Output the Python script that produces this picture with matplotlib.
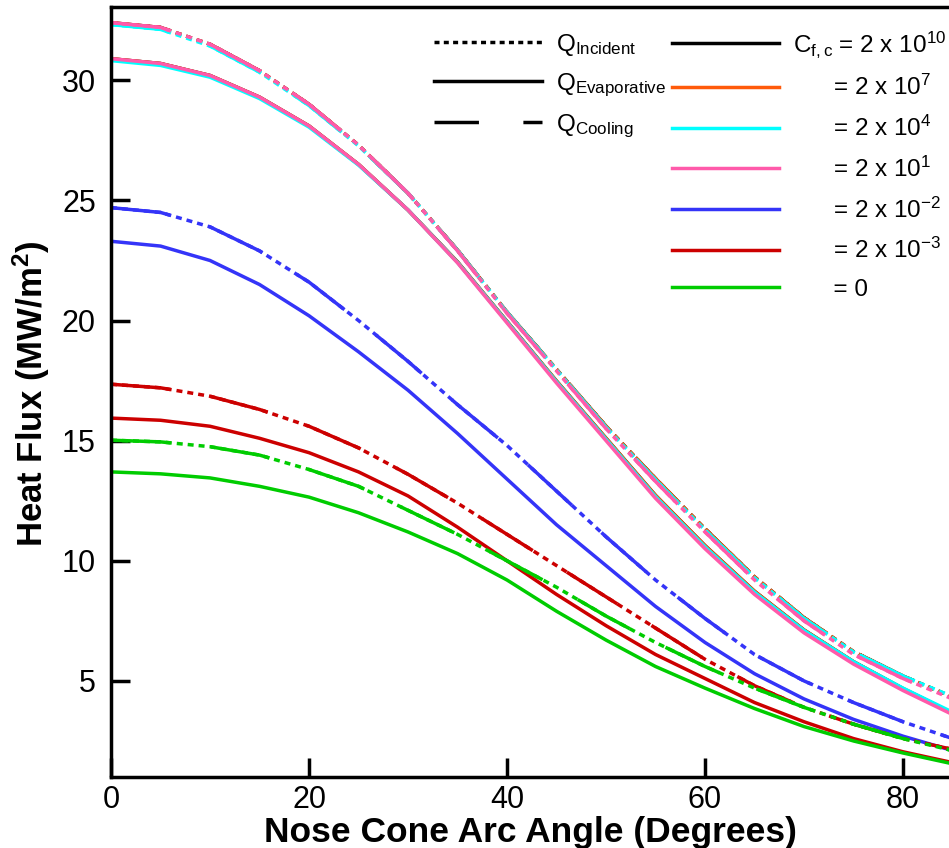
import numpy as np
import matplotlib
matplotlib.use('Agg')
from matplotlib import pyplot as plt
from matplotlib.lines import Line2D

plt.rcParams['font.family'] = ['Liberation Sans', 'DejaVu Sans']
plt.rcParams['mathtext.fontset'] = 'custom'
plt.rcParams['mathtext.rm'] = 'Liberation Sans'
plt.rcParams['mathtext.it'] = 'Liberation Sans:italic'
plt.rcParams['mathtext.bf'] = 'Liberation Sans:bold'
plt.rcParams['lines.scale_dashes'] = False

# nose cone arc angle (deg)
angle = [0, 5, 10, 15, 20, 25, 30, 35, 40, 45, 50, 55, 60, 65, 70, 75, 80, 85]

# heat flux (MW/m2)
# Cfc = 2e10 and 2e7 (black / orange)
blk_inc  = [32.4, 32.2, 31.5, 30.4, 29.0, 27.3, 25.3, 22.93, 20.35, 17.97, 15.6, 13.42, 11.33, 9.33, 7.63, 6.22, 5.2, 4.33]
blk_evap = [30.9, 30.7, 30.2, 29.3, 28.1, 26.5, 24.6, 22.44, 19.96, 17.48, 15.1, 12.72, 10.63, 8.73, 7.12, 5.8, 4.68, 3.66]
# Cfc = 2e4 (cyan)
cyn_inc  = [32.32, 32.12, 31.43, 30.34, 28.95, 27.27, 25.3, 22.92, 20.34, 17.95, 15.56, 13.37, 11.28, 9.29, 7.6, 6.2, 5.2, 4.35]
cyn_evap = [30.82, 30.62, 30.13, 29.24, 28.05, 26.47, 24.6, 22.42, 19.94, 17.45, 15.06, 12.67, 10.58, 8.69, 7.1, 5.8, 4.7, 3.7]
# Cfc = 2e1 (pink)
pnk_inc  = [32.4, 32.2, 31.5, 30.4, 29.0, 27.3, 25.3, 22.9, 20.3, 17.9, 15.5, 13.3, 11.2, 9.2, 7.5, 6.1, 5.1, 4.25]
pnk_evap = [30.9, 30.7, 30.2, 29.3, 28.1, 26.5, 24.6, 22.4, 19.9, 17.4, 15.0, 12.6, 10.5, 8.6, 7.0, 5.7, 4.6, 3.6]
# Cfc = 2e-2 (blue)
blu_inc  = [24.7, 24.5, 23.9, 22.9, 21.6, 20.0, 18.3, 16.5, 14.8, 12.9, 11.0, 9.2, 7.6, 6.1, 5.0, 4.1, 3.3, 2.6]
blu_evap = [23.3, 23.1, 22.5, 21.5, 20.2, 18.7, 17.1, 15.3, 13.4, 11.5, 9.8, 8.1, 6.6, 5.3, 4.25, 3.4, 2.7, 2.1]
# Cfc = 2e-3 (red)
red_inc  = [17.35, 17.2, 16.85, 16.3, 15.6, 14.7, 13.6, 12.4, 11.1, 9.8, 8.5, 7.2, 5.9, 4.8, 3.9, 3.2, 2.6, 2.15]
red_evap = [15.94, 15.85, 15.6, 15.1, 14.5, 13.7, 12.7, 11.4, 10.0, 8.6, 7.3, 6.1, 5.1, 4.1, 3.3, 2.6, 2.05, 1.6]
# Cfc = 0 (green)
grn_inc  = [15.02, 14.95, 14.75, 14.4, 13.8, 13.1, 12.1, 11.1, 10.0, 8.9, 7.7, 6.6, 5.6, 4.7, 3.9, 3.2, 2.6, 2.1]
grn_evap = [13.7, 13.62, 13.45, 13.1, 12.65, 12.0, 11.2, 10.3, 9.2, 7.9, 6.7, 5.6, 4.7, 3.85, 3.1, 2.5, 2.0, 1.55]

pad = '      '
cf_labels = [r'C$_\mathrm{f,c}$ = 2 x 10$^\mathrm{10}$',
             pad + r'= 2 x 10$^\mathrm{7}$',
             pad + r'= 2 x 10$^\mathrm{4}$',
             pad + r'= 2 x 10$^\mathrm{1}$',
             pad + r'= 2 x 10$^\mathrm{-2}$',
             pad + r'= 2 x 10$^\mathrm{-3}$',
             pad + r'= 0']
colors = ['#000000', '#FF5A0A', '#00FFFF', '#FF5AAA', '#3434F8', '#CC0000', '#00CC00']

# incident and cooling curves lie on top of each other in the figure
cases = [(blk_inc, blk_evap), (blk_inc, blk_evap), (cyn_inc, cyn_evap),
         (pnk_inc, pnk_evap), (blu_inc, blu_evap), (red_inc, red_evap),
         (grn_inc, grn_evap)]

DOT = (0, (4.3, 3.6))
DASH = (0, (43, 29))
LW = 2.5

fig = plt.figure(figsize=(9.49, 8.48), dpi=100)
ax = fig.add_axes([0.117, 0.0837, 0.9389, 0.908])

for col, (qi, qe) in zip(colors, cases):
    ax.plot(angle, qi, color=col, lw=LW, linestyle=DOT)    # Q incident
    ax.plot(angle, qi, color=col, lw=LW, linestyle=DASH)   # Q cooling
    ax.plot(angle, qe, color=col, lw=LW, linestyle='-')    # Q evaporative

ax.set_xlim(0, 90)
ax.set_ylim(1.0, 33.05)
ax.set_xticks([0, 20, 40, 60, 80])
ax.set_yticks([5, 10, 15, 20, 25, 30])
ax.tick_params(direction='in', length=14, width=2.5, labelsize=22)
ax.tick_params(axis='y', pad=11)
ax.tick_params(axis='x', pad=6)
for s in ax.spines.values():
    s.set_linewidth(2.5)

ax.set_xlabel('Nose Cone Arc Angle (Degrees)', fontsize=25.5, fontweight='bold')
ax.set_ylabel(r'Heat Flux (MW/m$^\mathbf{2}$)', fontsize=25, fontweight='bold')
ax.xaxis.set_label_coords(0.471, -0.050)
ax.yaxis.set_label_coords(-0.066, 0.498)

h1 = [Line2D([], [], color='k', lw=LW, linestyle=(0, (3.6, 3.1))),
      Line2D([], [], color='k', lw=LW),
      Line2D([], [], color='k', lw=LW, linestyle=(0, (32, 32)))]
q_labels = [r'Q$_\mathrm{Incident}$', r'Q$_\mathrm{Evaporative}$', r'Q$_\mathrm{Cooling}$']
leg1 = ax.legend(h1, q_labels, loc='upper left', bbox_to_anchor=(0.3625, 0.968),
                 frameon=False, fontsize=17.5, handlelength=4.44, handletextpad=0.58,
                 labelspacing=0.56, borderpad=0, borderaxespad=0)
ax.add_artist(leg1)

h2 = [Line2D([], [], color=c, lw=LW) for c in colors]
ax.legend(h2, cf_labels, loc='upper left', bbox_to_anchor=(0.6296, 0.972),
          frameon=False, fontsize=17.5, handlelength=4.4, handletextpad=0.58,
          labelspacing=0.64, borderpad=0, borderaxespad=0)

fig.savefig('out.png', dpi=100)
